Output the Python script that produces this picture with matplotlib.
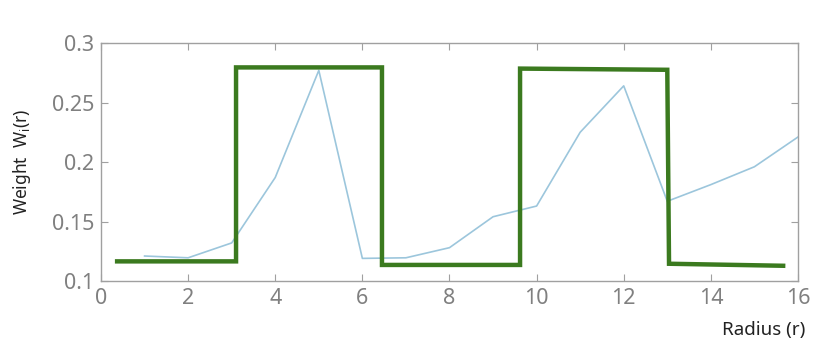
import matplotlib.pyplot as plt
import numpy as np

# blue curve: weight per radius
radius = [1, 2, 3, 4, 5, 6, 7, 8, 9, 10, 11, 12, 13, 14, 15, 16]
weight = [0.121, 0.1195, 0.132, 0.187, 0.277, 0.119, 0.1195, 0.128, 0.154,
          0.163, 0.225, 0.264, 0.167, 0.181, 0.196, 0.221]

# green step curve
step_x = [0.37, 3.1, 3.1, 6.45, 6.45, 9.62, 9.62, 13.0, 13.04, 15.66]
step_y = [0.1165, 0.1165, 0.2795, 0.2795, 0.1135, 0.1135, 0.2785, 0.2775, 0.1145, 0.1128]

xticks = [0, 2, 4, 6, 8, 10, 12, 14, 16]
yticks = [0.1, 0.15, 0.2, 0.25, 0.3]
ytick_labels = ['0.1', '0.15', '0.2', '0.25', '0.3']

plt.rcParams['font.family'] = ['Noto Sans', 'DejaVu Sans']

fig = plt.figure(figsize=(8.3, 3.63), dpi=100)
ax = fig.add_axes([0.1217, 0.2259, 0.8397, 0.6556])

ax.plot(radius, weight, color='#9cc6dc', lw=1.2)
ax.plot(step_x, step_y, color='#3b7a1f', lw=3.2, solid_joinstyle='miter')

ax.set_xlim(0, 16)
ax.set_ylim(0.1, 0.3)
ax.set_xticks(xticks)
ax.set_yticks(yticks)
ax.set_yticklabels(ytick_labels)

grey = '#a0a0a0'
for s in ax.spines.values():
    s.set_color(grey)
    s.set_linewidth(1.0)
ax.tick_params(direction='in', length=5, color=grey, labelcolor='#808080',
               labelsize=15.5, top=True, right=True, pad=5)

ax.set_ylabel('Weight  W$\\mathregular{_i}$(r)', fontsize=12.5, color='#222222')
ax.yaxis.set_label_coords(-0.098, 0.5)
fig.text(0.97, 0.065, 'Radius (r)', fontsize=13.5, color='#222222', ha='right', va='bottom')

fig.savefig('out.png', dpi=100)
